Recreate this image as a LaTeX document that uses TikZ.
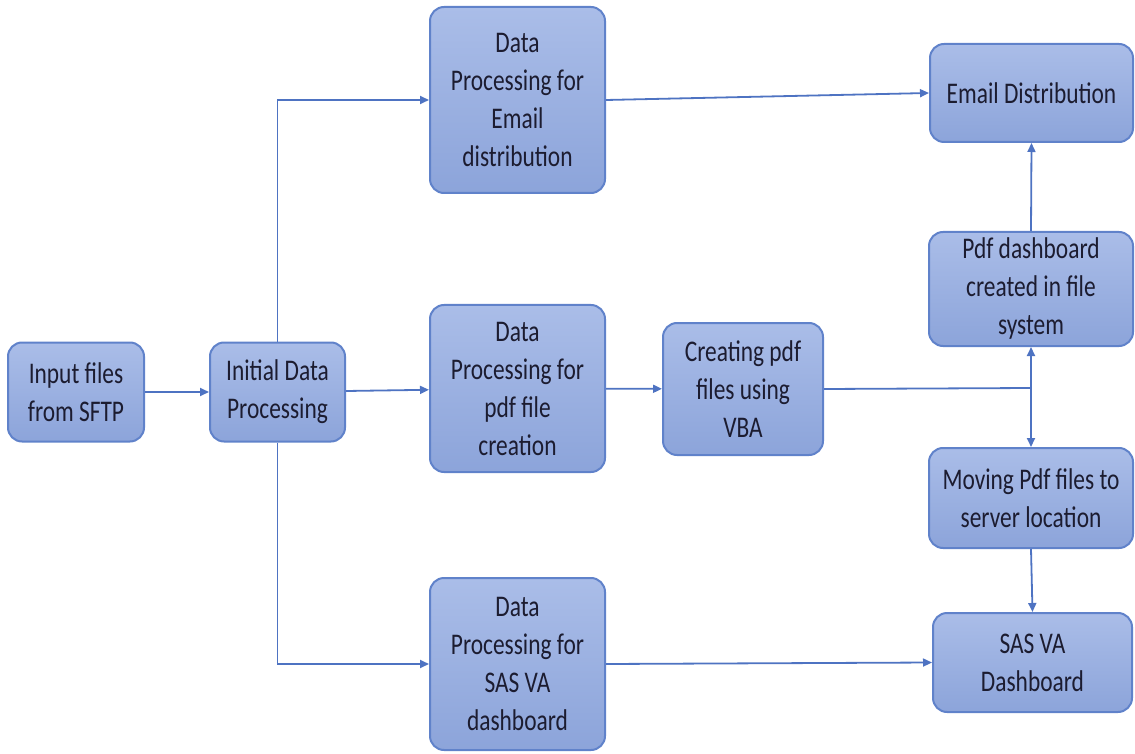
\documentclass[tikz,border=0pt]{standalone}
\usepackage{fontspec}
\setmainfont{Carlito}[FakeStretch=0.78]
\usetikzlibrary{arrows.meta}

\definecolor{boxtop}{HTML}{AABDE8}
\definecolor{boxbot}{HTML}{8CA4DA}
\definecolor{boxline}{HTML}{6082CA}
\definecolor{flowline}{HTML}{4E73C2}
\definecolor{boxtext}{HTML}{1C1C30}

\tikzset{
  stagebox/.style={draw=boxline, line width=1pt, rounded corners=7pt,
    top color=boxtop, bottom color=boxbot, text=boxtext, align=center,
    inner sep=2pt, font=\fontsize{15}{19}\selectfont},
  flow/.style={draw=flowline, line width=0.9pt,
    -{Triangle[length=4.5pt,width=4pt]}},
  plainflow/.style={draw=flowline, line width=0.9pt}
}

\begin{document}
\begin{tikzpicture}[x=0.5pt,y=-0.5pt]
			\useasboundingbox (0,0) rectangle (1135,754);

			% left part
			\node[stagebox, minimum width=68pt, minimum height=49.5pt] (input) at (76,392) {Input files\\from SFTP};
			\node[stagebox, minimum width=67.5pt, minimum height=49.5pt] (init) at (277.5,392) {Initial Data\\Processing};

			% processing branches
			\node[stagebox, minimum width=87.5pt, minimum height=93pt] (edp) at (517.5,100) {Data\\Processing for\\Email\\distribution};
			\node[stagebox, minimum width=87.5pt, minimum height=83.5pt] (pdp) at (517.5,388.5) {Data\\Processing for\\pdf file\\creation};
			\node[stagebox, minimum width=87.5pt, minimum height=86pt] (sdp) at (517.5,664) {Data\\Processing for\\SAS VA\\dashboard};
			\node[stagebox, minimum width=80pt, minimum height=66pt] (cpdf) at (743,389) {Creating pdf\\files using\\VBA};

			% right column
			\node[stagebox, minimum width=101.5pt, minimum height=49pt] (edist) at (1031.5,93) {Email Distribution};
			\node[stagebox, minimum width=102pt, minimum height=57pt] (pdash) at (1031,289) {Pdf dashboard\\created in file\\system};
			\node[stagebox, minimum width=102pt, minimum height=50pt] (move) at (1031,498) {Moving Pdf files to\\server location};
			\node[stagebox, minimum width=99.5pt, minimum height=49.5pt] (sas) at (1032.5,662.5) {SAS VA\\Dashboard};

			\coordinate (split) at (1031,388);

			\draw[flow] (input) -- (init);
			\draw[flow] (init) -- (pdp);
			\draw[flow] (init.north) |- (edp.west);
			\draw[flow] (init.south) |- (sdp.west);
			\draw[flow] (edp.east) -- (edist.west);
			\draw[flow] (pdp) -- (cpdf);
			\draw[flow] (sdp.east) -- (sas.west);
			\draw[plainflow] (cpdf.east) -- (split);
			\draw[flow] (split) -- (pdash.south);
			\draw[flow] (split) -- (move.north);
			\draw[flow] (pdash.north) -- (edist.south);
			\draw[flow] (move.south) -- (sas.north);
		\end{tikzpicture}
\end{document}
